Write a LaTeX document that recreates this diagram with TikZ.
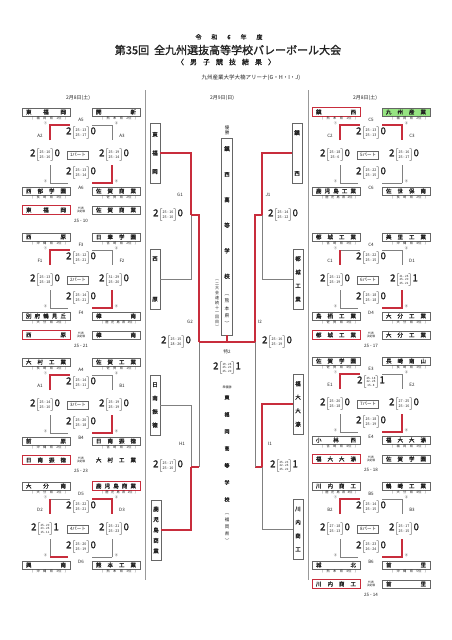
\documentclass[tikz,border=0pt]{standalone}
\usepackage{fontspec}
\setmainfont{Noto Sans CJK JP}[BoldFont={Noto Sans CJK JP}, BoldFeatures={FakeBold=1.5}]

\definecolor{winred}{RGB}{200,45,60}
\definecolor{leafgreen}{RGB}{150,228,130}
\definecolor{ink}{RGB}{35,35,35}

\makeatletter
% spread the characters of a name over a fixed width
\newcommand\spreadname[2]{\makebox[#1][s]{\def\sepglue{}\@tfor\tchar:=#2\do{\sepglue\tchar\def\sepglue{\hfill}}}}
\makeatother
\newcommand\sets[1]{\fontsize{3.6}{5.2}\selectfont\begin{tabular}{@{}c@{}}#1\end{tabular}}
\newcommand\setsiii[1]{\fontsize{2.9}{3.7}\selectfont\begin{tabular}{@{}c@{}}#1\end{tabular}}
\newcommand\score[3]{{\fontsize{9.5}{10}\selectfont\bfseries #1}$\left[\vcenter{\hbox{\sets{#2}}}\right]${\fontsize{9.5}{10}\selectfont\bfseries #3}}
\newcommand\scoreiii[3]{{\fontsize{9.5}{10}\selectfont\bfseries #1}$\left[\vcenter{\hbox{\setsiii{#2}}}\right]${\fontsize{9.5}{10}\selectfont\bfseries #3}}

% frame of one pool: labels top, left, right, bottom, part
\newcommand\bracketframe[5]{%
  \coordinate (nw) at (50,13); \coordinate (ne) at (112,13);
  \coordinate (sw) at (50,71); \coordinate (se) at (112,71);
  \draw[seg] (nw) -- ++(20,0) (ne) -- ++(-20,0) (sw) -- ++(18,0) (se) -- ++(-20,0);
  \draw[seg] (nw) -- ++(0,15) (ne) -- ++(0,15) (sw) -- ++(0,-18) (se) -- ++(0,-18);
  \node[lab] (mt) at (81,8) {#1};
  \node[lab] (ml) at (40,24) {#2};
  \node[lab] (mr) at (122,24) {#3};
  \node[lab] (mb) at (81,76) {#4};
  \node[parttag] (pt) at (78,43) {#5};
  \node[circ] (c1) at (45.5,11) {①};
  \node[circ] (c2) at (116.5,11) {②};
  \node[circ] (c3) at (45.5,69) {③};
  \node[circ] (c4) at (116.5,69) {④};
}

\begin{document}
\begin{tikzpicture}[x=1pt, y=-1pt, font=\fontsize{5}{6}\selectfont, text=ink,
  seg/.style={draw=black!50, line width=0.6pt},
  win/.style={draw=winred, line width=1.1pt},
  team/.style={draw=black!60, line width=0.5pt, fill=white, minimum width=48pt, minimum height=8.5pt, inner sep=0pt, font=\fontsize{5.5}{6}\selectfont\bfseries},
  teamwin/.style={team, draw=winred, line width=1pt},
  pref/.style={inner sep=0pt, font=\fontsize{3.2}{3.5}\selectfont},
  lab/.style={inner sep=0pt, font=\fontsize{4.5}{5}\selectfont},
  circ/.style={inner sep=0pt, font=\fontsize{3.2}{3.5}\selectfont},
  parttag/.style={draw=black!60, line width=0.5pt, minimum width=21pt, minimum height=8pt, inner sep=0pt, font=\fontsize{4.5}{5}\selectfont},
  res/.style={inner sep=0pt},
  vbox/.style={draw=black!60, line width=0.6pt, minimum width=10pt, minimum height=60pt, inner sep=0.5pt, align=center, font=\fontsize{5.5}{5.5}\selectfont\bfseries},
  vtext/.style={inner sep=0pt, align=center, font=\fontsize{5.5}{5.5}\selectfont\bfseries},
]
\useasboundingbox[fill=white] (0,0) rectangle (452,640);

% heading
\node[font=\fontsize{6}{7}\selectfont\bfseries] (year) at (229,37) {\spreadname{67pt}{令和6年度}};
\node[font=\fontsize{11}{12}\selectfont\bfseries] (title) at (228,50) {第35回\hspace{5pt}全九州選抜高等学校バレーボール大会};
\node[font=\fontsize{7}{8}\selectfont\bfseries] (sub) at (226,62) {\spreadname{98pt}{〈男子競技結果〉}};
\node[font=\fontsize{5.5}{6}\selectfont] (venue) at (251,78) {九州産業大学大楠アリーナ(G・H・I・J)};
\node (day1) at (78,98) {2月8日(土)};
\node (day2) at (222,98) {2月9日(日)};
\node (day3) at (365,98) {2月8日(土)};

\draw[black!40, line width=0.5pt] (145,90) -- (145,580) (308,90) -- (308,580);

% ---- left column ----
\begin{scope}[shift={(0,112)}, name prefix=p1-]
  \bracketframe{A5}{A2}{A3}{A6}{1パート}
  \draw[win] (nw) ++(0,15) -- (nw) -- ++(20,0);
  \draw[win] (se) ++(-20,0) -- (se) -- ++(0,-18);
  \node[team] (tl) at (46,0) {\spreadname{40pt}{東福岡}};
  \node[team] (tr) at (116,0) {\spreadname{40pt}{開新}};
  \node[team] (bl) at (46,79) {\spreadname{40pt}{西部学園}};
  \node[team] (br) at (116,79) {\spreadname{40pt}{佐賀商業}};
  \node[pref] at (49,6.5) {\spreadname{34pt}{(福岡県{1位})}};
  \node[pref] at (119,6.5) {\spreadname{34pt}{(熊本県{2位})}};
  \node[pref] at (49,85.5) {\spreadname{34pt}{(長崎県{3位})}};
  \node[pref] at (119,85.5) {\spreadname{34pt}{(佐賀県{2位})}};
  \node[res] (st) at (81,21) {\score{2}{25 - 13\\25 - 17}{0}};
  \node[res] (sl) at (45,43) {\score{2}{25 - 10\\25 - 16}{0}};
  \node[res] (sr) at (114,43) {\score{2}{25 - 19\\25 - 14}{0}};
  \node[res] (sb) at (81,61) {\score{2}{25 - 13\\25 - 14}{0}};
  \node[teamwin] (fw) at (46,98) {\spreadname{40pt}{東福岡}};
  \node[team] (fl) at (116,98) {\spreadname{40pt}{佐賀商業}};
  \node[lab, align=center, font=\fontsize{2.8}{3.2}\selectfont] (fk) at (81,98) {代表\\決定戦};
  \node[lab] (fs) at (81,109) {25 - 10};
\end{scope}

\begin{scope}[shift={(0,237)}, name prefix=p2-]
  \bracketframe{F3}{F1}{F2}{F4}{2パート}
  \draw[win] (nw) ++(0,15) -- (nw) -- ++(20,0);
  \draw[win] (se) ++(-20,0) -- (se) -- ++(0,-18);
  \node[team] (tl) at (46,0) {\spreadname{40pt}{西原}};
  \node[team] (tr) at (116,0) {\spreadname{40pt}{日章学園}};
  \node[team] (bl) at (46,79) {\spreadname{40pt}{別府鶴見丘}};
  \node[team] (br) at (116,79) {\spreadname{40pt}{樟南}};
  \node[pref] at (49,6.5) {\spreadname{34pt}{(沖縄県{1位})}};
  \node[pref] at (119,6.5) {\spreadname{34pt}{(宮崎県{2位})}};
  \node[pref] at (49,85.5) {\spreadname{34pt}{(大分県{2位})}};
  \node[pref] at (119,85.5) {\spreadname{34pt}{(鹿児島県{3位})}};
  \node[res] (st) at (81,21) {\score{2}{25 - 12\\25 - 21}{0}};
  \node[res] (sl) at (45,43) {\score{2}{25 - 13\\25 - 18}{0}};
  \node[res] (sr) at (114,43) {\score{2}{31 - 29\\25 - 20}{0}};
  \node[res] (sb) at (81,61) {\score{2}{25 - 14\\25 - 21}{0}};
  \node[teamwin] (fw) at (46,98) {\spreadname{40pt}{西原}};
  \node[team] (fl) at (116,98) {\spreadname{40pt}{樟南}};
  \node[lab, align=center, font=\fontsize{2.8}{3.2}\selectfont] (fk) at (81,98) {代表\\決定戦};
  \node[lab] (fs) at (81,109) {25 - 21};
\end{scope}

\begin{scope}[shift={(0,362)}, name prefix=p3-]
  \bracketframe{A4}{A1}{B1}{B4}{3パート}
  \draw[win] (nw) ++(0,15) -- (nw) -- ++(20,0);
  \draw[win] (se) ++(-20,0) -- (se) -- ++(0,-18);
  \node[team] (tl) at (46,0) {\spreadname{40pt}{大村工業}};
  \node[team] (tr) at (116,0) {\spreadname{40pt}{佐賀工業}};
  \node[team] (bl) at (46,79) {\spreadname{40pt}{前原}};
  \node[team] (br) at (116,79) {\spreadname{40pt}{日南振徳}};
  \node[pref] at (49,6.5) {\spreadname{34pt}{(長崎県{1位})}};
  \node[pref] at (119,6.5) {\spreadname{34pt}{(佐賀県{1位})}};
  \node[pref] at (49,85.5) {\spreadname{34pt}{(沖縄県{2位})}};
  \node[pref] at (119,85.5) {\spreadname{34pt}{(宮崎県{1位})}};
  \node[res] (st) at (81,21) {\score{2}{25 - 14\\25 - 11}{0}};
  \node[res] (sl) at (45,43) {\score{2}{25 - 14\\25 - 10}{0}};
  \node[res] (sr) at (114,43) {\score{2}{25 - 19\\25 - 19}{0}};
  \node[res] (sb) at (81,61) {\score{2}{25 - 20\\25 - 18}{0}};
  \node[teamwin] (fw) at (46,98) {\spreadname{40pt}{日南振徳}};
  \node[team, draw=none, fill=none] (fl) at (116,98) {\spreadname{40pt}{大村工業}};
  \node[lab, align=center, font=\fontsize{2.8}{3.2}\selectfont] (fk) at (81,98) {代表\\決定戦};
  \node[lab] (fs) at (81,109) {25 - 23};
\end{scope}

\begin{scope}[shift={(0,486)}, name prefix=p4-]
  \bracketframe{D5}{D2}{D3}{D6}{4パート}
  \draw[win] (nw) -- ++(0,15);
  \draw[win] (ne) ++(-20,0) -- (ne) -- ++(0,15);
  \draw[win] (sw) -- ++(18,0);
  \node[team] (tl) at (46,0) {\spreadname{40pt}{大分南}};
  \node[teamwin] (tr) at (116,0) {\spreadname{40pt}{鹿児島商業}};
  \node[team] (bl) at (46,79) {\spreadname{40pt}{興南}};
  \node[team] (br) at (116,79) {\spreadname{40pt}{熊本工業}};
  \node[pref] at (49,6.5) {\spreadname{34pt}{(大分県{1位})}};
  \node[pref] at (119,6.5) {\spreadname{34pt}{(鹿児島県{1位})}};
  \node[pref] at (49,85.5) {\spreadname{34pt}{(沖縄県{3位})}};
  \node[pref] at (119,85.5) {\spreadname{34pt}{(熊本県{3位})}};
  \node[res] (st) at (81,21) {\score{2}{25 - 22\\25 - 21}{0}};
  \node[res] (sl) at (45,43) {\scoreiii{2}{25 - 20\\23 - 25\\15 - 11}{1}};
  \node[res] (sr) at (114,43) {\score{2}{25 - 21\\25 - 23}{0}};
  \node[res] (sb) at (81,61) {\score{2}{25 - 20\\25 - 19}{0}};
\end{scope}

% ---- right column ----
\begin{scope}[shift={(290,112)}, name prefix=p5-]
  \bracketframe{C5}{C2}{C3}{C6}{5パート}
  \draw[win] (nw) ++(0,15) -- (nw) -- ++(20,0);
  \draw[win] (ne) ++(-20,0) -- (ne) -- ++(0,15);
  \node[teamwin] (tl) at (46,0) {\spreadname{40pt}{鎮西}};
  \node[team, fill=leafgreen] (tr) at (116,0) {\spreadname{40pt}{九州産業}};
  \node[team] (bl) at (46,79) {\spreadname{40pt}{鹿児島工業}};
  \node[team] (br) at (116,79) {\spreadname{40pt}{佐世保南}};
  \node[pref] at (49,6.5) {\spreadname{34pt}{(熊本県{1位})}};
  \node[pref] at (119,6.5) {\spreadname{34pt}{(福岡県{2位})}};
  \node[pref] at (49,85.5) {\spreadname{34pt}{(鹿児島県{2位})}};
  \node[pref] at (119,85.5) {\spreadname{34pt}{(長崎県{2位})}};
  \node[res] (st) at (81,21) {\score{2}{25 - 13\\25 - 13}{0}};
  \node[res] (sl) at (45,43) {\score{2}{25 - 18\\25 - 6}{0}};
  \node[res] (sr) at (114,43) {\score{2}{25 - 16\\25 - 17}{0}};
  \node[res] (sb) at (81,61) {\score{2}{25 - 22\\25 - 15}{0}};
\end{scope}

\begin{scope}[shift={(290,237)}, name prefix=p6-]
  \bracketframe{C4}{C1}{D1}{D4}{6パート}
  \draw[win] (nw) -- ++(0,15);
  \draw[win] (se) ++(-20,0) -- (se) -- ++(0,-18);
  \node[team] (tl) at (46,0) {\spreadname{40pt}{都城工業}};
  \node[team] (tr) at (116,0) {\spreadname{40pt}{美里工業}};
  \node[team] (bl) at (46,79) {\spreadname{40pt}{鳥栖工業}};
  \node[team] (br) at (116,79) {\spreadname{40pt}{大分工業}};
  \node[pref] at (49,6.5) {\spreadname{34pt}{(宮崎県{3位})}};
  \node[pref] at (119,6.5) {\spreadname{34pt}{(沖縄県{4位})}};
  \node[pref] at (49,85.5) {\spreadname{34pt}{(佐賀県{3位})}};
  \node[pref] at (119,85.5) {\spreadname{34pt}{(大分県{3位})}};
  \node[res] (st) at (81,21) {\score{2}{25 - 22\\25 - 15}{0}};
  \node[res] (sl) at (45,43) {\score{2}{25 - 11\\25 - 19}{0}};
  \node[res] (sr) at (114,43) {\scoreiii{2}{21 - 25\\25 - 20\\25 - 21}{1}};
  \node[res] (sb) at (81,61) {\score{2}{25 - 18\\25 - 18}{0}};
  \node[teamwin] (fw) at (46,98) {\spreadname{40pt}{都城工業}};
  \node[team] (fl) at (116,98) {\spreadname{40pt}{大分工業}};
  \node[lab, align=center, font=\fontsize{2.8}{3.2}\selectfont] (fk) at (81,98) {代表\\決定戦};
  \node[lab] (fs) at (81,109) {25 - 17};
\end{scope}

\begin{scope}[shift={(290,361)}, name prefix=p7-]
  \bracketframe{E3}{E1}{E2}{E4}{7パート}
  \draw[win] (nw) ++(0,15) -- (nw) -- ++(20,0);
  \draw[win] (se) ++(-20,0) -- (se) -- ++(0,-18);
  \node[team] (tl) at (46,0) {\spreadname{40pt}{佐賀学園}};
  \node[team] (tr) at (116,0) {\spreadname{40pt}{長崎南山}};
  \node[team] (bl) at (46,79) {\spreadname{40pt}{小林西}};
  \node[team] (br) at (116,79) {\spreadname{40pt}{福大大濠}};
  \node[pref] at (49,6.5) {\spreadname{34pt}{(佐賀県{4位})}};
  \node[pref] at (119,6.5) {\spreadname{34pt}{(長崎県{3位})}};
  \node[pref] at (49,85.5) {\spreadname{34pt}{(宮崎県{4位})}};
  \node[pref] at (119,85.5) {\spreadname{34pt}{(福岡県{3位})}};
  \node[res] (st) at (81,21) {\scoreiii{2}{25 - 18\\22 - 25\\15 - 8}{1}};
  \node[res] (sl) at (45,43) {\score{2}{25 - 20\\25 - 18}{0}};
  \node[res] (sr) at (114,43) {\score{2}{27 - 25\\25 - 16}{0}};
  \node[res] (sb) at (81,61) {\score{2}{25 - 18\\25 - 19}{0}};
  \node[teamwin] (fw) at (46,98) {\spreadname{40pt}{福大大濠}};
  \node[team] (fl) at (116,98) {\spreadname{40pt}{佐賀学園}};
  \node[lab, align=center, font=\fontsize{2.8}{3.2}\selectfont] (fk) at (81,98) {代表\\決定戦};
  \node[lab] (fs) at (81,109) {25 - 18};
\end{scope}

\begin{scope}[shift={(290,486)}, name prefix=p8-]
  \bracketframe{B5}{B2}{B3}{B6}{8パート}
  \draw[win] (nw) ++(0,15) -- (nw) -- ++(20,0);
  \draw[win] (se) ++(-20,0) -- (se) -- ++(0,-18);
  \node[team] (tl) at (46,0) {\spreadname{40pt}{川内商工}};
  \node[team] (tr) at (116,0) {\spreadname{40pt}{鶴崎工業}};
  \node[team] (bl) at (46,79) {\spreadname{40pt}{城北}};
  \node[team] (br) at (116,79) {\spreadname{40pt}{首里}};
  \node[pref] at (49,6.5) {\spreadname{34pt}{(鹿児島県{4位})}};
  \node[pref] at (119,6.5) {\spreadname{34pt}{(大分県{4位})}};
  \node[pref] at (49,85.5) {\spreadname{34pt}{(熊本県{4位})}};
  \node[pref] at (119,85.5) {\spreadname{34pt}{(沖縄県{5位})}};
  \node[res] (st) at (81,21) {\score{2}{25 - 14\\25 - 15}{0}};
  \node[res] (sl) at (45,43) {\score{2}{27 - 18\\25 - 13}{0}};
  \node[res] (sr) at (114,43) {\score{2}{25 - 17\\25 - 15}{0}};
  \node[res] (sb) at (81,61) {\score{2}{25 - 23\\26 - 24}{0}};
  \node[teamwin] (fw) at (46,98) {\spreadname{40pt}{川内商工}};
  \node[team] (fl) at (116,98) {\spreadname{40pt}{首里}};
  \node[lab, align=center, font=\fontsize{2.8}{3.2}\selectfont] (fk) at (81,98) {代表\\決定戦};
  \node[lab] (fs) at (81,109) {25 - 14};
\end{scope}

% ---- final tournament ----
\node[vbox] (tfk) at (155,153) {東\\[13pt]福\\[13pt]岡};
\node[vbox] (nsh) at (155,279) {西\\[35pt]原};
\node[vbox] (nnt) at (155,405) {日\\[8pt]南\\[8pt]振\\[8pt]徳};
\node[vbox] (kgs) at (156,530) {鹿\\[5pt]児\\[5pt]島\\[5pt]商\\[5pt]業};
\node[vbox] (chz) at (297,153) {鎮\\[35pt]西};
\node[vbox] (mkj) at (298,279) {都\\[8pt]城\\[8pt]工\\[8pt]業};
\node[vbox] (fkd) at (298,404) {福\\[8pt]大\\[8pt]大\\[8pt]濠};
\node[vbox] (sdk) at (298,529) {川\\[8pt]内\\[8pt]商\\[8pt]工};

\coordinate (g1) at (191,215);
\coordinate (h1) at (191,467);
\coordinate (g2) at (199,342);
\coordinate (j1) at (262,215);
\coordinate (i1) at (262,467);
\coordinate (i2) at (255,342);
\coordinate (fin) at (227,342);

\draw[win] (tfk.east) -| (g1);
\draw[seg] (nsh.east) -| (g1);
\draw[win] (g1) -- (g1 -| g2) -- (g2);
\draw[seg] (nnt.east) -| (h1);
\draw[win] (kgs.east) -| (h1);
\draw[win] (h1) -- (h1 -| g2);
\draw[seg] (h1 -| g2) -- (g2);
\draw[win] (chz.west) -| (j1);
\draw[seg] (mkj.west) -| (j1);
\draw[win] (j1) -- (j1 -| i2) -- (i2);
\draw[win] (fkd.west) -| (i1);
\draw[seg] (sdk.west) -| (i1);
\draw[win] (i1) -- (i1 -| i2);
\draw[seg] (i1 -| i2) -- (i2);

\node[lab] (lg1) at (180,195) {G1};
\node[lab] (lj1) at (268,195) {J1};
\node[lab] (lg2) at (190,322) {G2};
\node[lab] (li2) at (260,322) {I2};
\node[lab] (lh1) at (182,444) {H1};
\node[lab] (li1) at (270,444) {I1};
\node[res] (rg1) at (168,215) {\score{2}{25 - 16\\25 - 10}{0}};
\node[res] (rj1) at (283,215) {\score{2}{25 - 14\\25 - 12}{0}};
\node[res] (rg2) at (176,342) {\score{2}{25 - 15\\28 - 26}{0}};
\node[res] (ri2) at (277,342) {\score{2}{25 - 16\\25 - 19}{0}};
\node[res] (rh1) at (168,466) {\score{2}{25 - 17\\25 - 10}{0}};
\node[res] (ri1) at (284,466) {\scoreiii{2}{25 - 23\\22 - 25\\25 - 22}{1}};

% champion and runner-up
\node[lab, align=center] (vlab) at (227,130) {優\\勝};
\node[draw=black!60, line width=0.6pt, minimum width=11pt, minimum height=197pt, inner sep=0pt] (champ) at (227,236.5) {};
\node[vtext] (champname) at (227,212.5) {鎮\\[20pt]西\\[20pt]高\\[20pt]等\\[20pt]学\\[20pt]校};
\node[vtext, font=\fontsize{4.8}{7.5}\selectfont] (champpref) at (227,310) {︵\\熊\\本\\県\\︶};
\node[vtext, font=\fontsize{4}{4.8}\selectfont] (times) at (217,304) {︵\\二\\大\\会\\連\\続\\十\\一\\回\\目\\︶};
\draw[win] (g2) -- (fin) -- (i2);
\draw[win] (fin) -- (champ.south);

\node[lab] (lfin) at (227,352) {特2};
\node[res] (rfin) at (227,368) {\scoreiii{2}{19 - 25\\25 - 23\\25 - 20}{1}};
\node[lab, font=\fontsize{3}{3.5}\selectfont] (rlab) at (227,387) {準優勝};
\node[vtext, font=\fontsize{5}{5}\selectfont\bfseries] (runner) at (227,448.5) {東\\[12pt]福\\[12pt]岡\\[12pt]高\\[12pt]等\\[12pt]学\\[12pt]校};
\node[vtext, font=\fontsize{4.5}{7}\selectfont] (runpref) at (227,528) {︵\\福\\岡\\県\\︶};
\end{tikzpicture}
\end{document}
